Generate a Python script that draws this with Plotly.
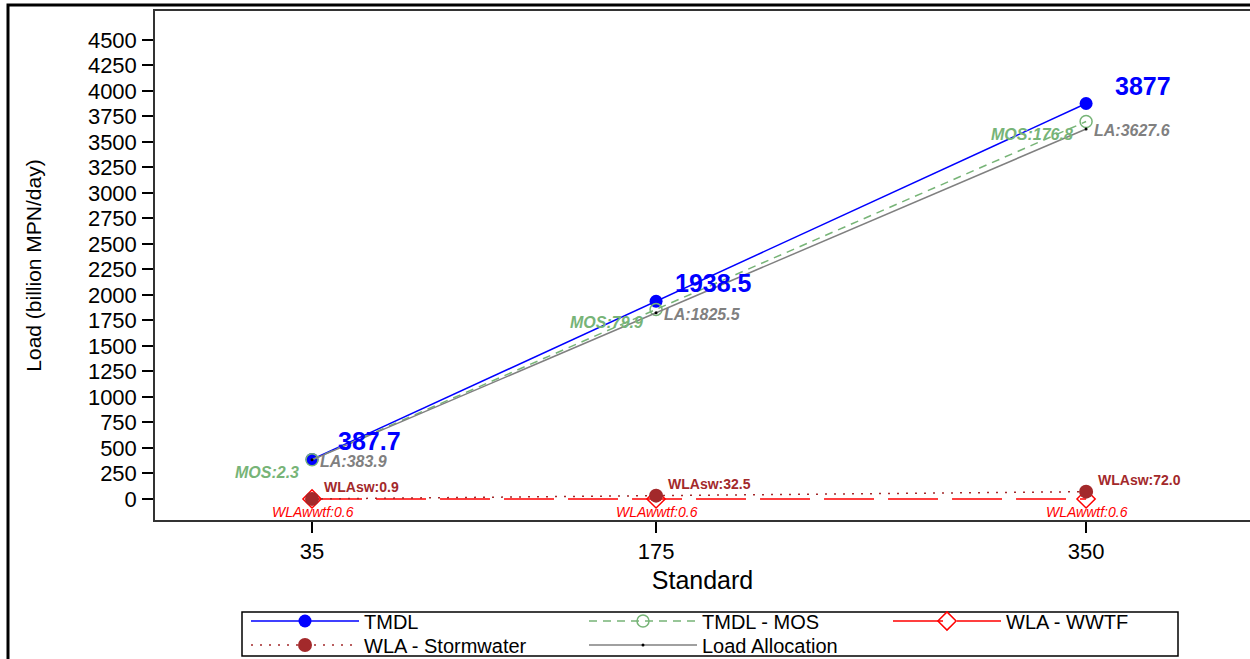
import plotly.graph_objects as go

# ---------------- data ----------------
standards = [35, 175, 350]
tmdl = [387.7, 1938.5, 3877.0]
mos = [2.3, 79.9, 176.8]
wla_wwtf = [0.6, 0.6, 0.6]
wla_sw = [0.9, 32.5, 72.0]
load_alloc = [383.9, 1825.5, 3627.6]
tmdl_minus_mos = [t - m for t, m in zip(tmdl, mos)]
y_ticks = list(range(0, 4501, 250))

# ---------------- style ----------------
FONT = "Liberation Sans, Arial, Helvetica, sans-serif"
BLUE = "#0000ff"
GREEN = "#77b477"
RED = "#ff0000"
DARKRED = "#a3292b"
GRAY = "#808080"

W, H = 1250, 659
ML, MR, MT, MB = 155, 0, 11, 139
PW, PH = W - ML - MR, H - MT - MB


def px_x(px):
    return (px - ML) / PW


def px_y(py):
    return (H - MB - py) / PH


fig = go.Figure()

fig.add_trace(go.Scatter(
    x=standards, y=tmdl, name="TMDL", mode="lines+markers",
    line=dict(color=BLUE, width=1.5),
    marker=dict(symbol="circle", size=13, color=BLUE),
    legend="legend"))
fig.add_trace(go.Scatter(
    x=standards, y=tmdl_minus_mos, name="TMDL - MOS", mode="lines+markers",
    line=dict(color=GREEN, width=1.5, dash="8px,6px"),
    marker=dict(symbol="circle-open", size=12, color=GREEN, line=dict(width=1.5)),
    legend="legend2"))
fig.add_trace(go.Scatter(
    x=standards, y=wla_wwtf, name="WLA - WWTF", mode="lines+markers",
    line=dict(color=RED, width=1.5, dash="50px,14px"),
    marker=dict(symbol="diamond-open", size=14, color=RED, line=dict(width=1.5)),
    legend="legend3"))
fig.add_trace(go.Scatter(
    x=standards, y=wla_sw, name="WLA - Stormwater", mode="lines+markers",
    line=dict(color=DARKRED, width=1.5, dash="2px,7px"),
    marker=dict(symbol="circle", size=14, color=DARKRED),
    legend="legend4"))
fig.add_trace(go.Scatter(
    x=standards, y=load_alloc, name="Load Allocation", mode="lines+markers",
    line=dict(color=GRAY, width=1.5),
    marker=dict(symbol="circle", size=3, color="black"),
    legend="legend5"))

# ---------------- annotations ----------------
ann = []
for xs, t in zip(standards, tmdl):
    ann.append(dict(x=xs, y=t, text=f"{t:g}", xanchor="center", yanchor="middle",
                    xshift=57, yshift=18,
                    font=dict(family=FONT, size=25, color=BLUE, weight="bold")))
for xs, v in zip(standards, load_alloc):
    ann.append(dict(x=xs, y=v, text=f"LA:{v:.1f}", xanchor="left", yanchor="middle",
                    xshift=6, yshift=-2,
                    font=dict(family=FONT, size=16, color=GRAY, weight="bold", style="italic")))
for xs, v, m in zip(standards, tmdl_minus_mos, mos):
    ann.append(dict(x=xs, y=v, text=f"MOS:{m:.1f}", xanchor="right", yanchor="middle",
                    xshift=-11, yshift=-13,
                    font=dict(family=FONT, size=16, color=GREEN, weight="bold", style="italic")))
for xs, v in zip(standards, wla_sw):
    ann.append(dict(x=xs, y=v, text=f"WLAsw:{v:.1f}", xanchor="left", yanchor="middle",
                    xshift=10, yshift=12,
                    font=dict(family=FONT, size=14, color=DARKRED, weight="bold")))
for xs, v in zip(standards, wla_wwtf):
    ann.append(dict(x=xs, y=v, text=f"WLAwwtf:{v:.1f}", xanchor="center", yanchor="middle",
                    xshift=1, yshift=-13,
                    font=dict(family=FONT, size=14, color=RED, style="italic")))
for a in ann:
    a.update(xref="x", yref="y", showarrow=False)

# ---------------- shapes: outer frame and legend box ----------------
shapes = [
    dict(type="rect", xref="paper", yref="paper",
         x0=px_x(8), x1=px_x(1262), y0=px_y(672), y1=px_y(5),
         line=dict(color="black", width=3), fillcolor="rgba(0,0,0,0)", layer="above"),
    dict(type="rect", xref="paper", yref="paper",
         x0=px_x(242), x1=px_x(1178), y0=px_y(656), y1=px_y(612),
         line=dict(color="black", width=1.5), fillcolor="rgba(0,0,0,0)", layer="above"),
]


def leg(px, py):
    return dict(x=px_x(px), y=px_y(py), xanchor="left", yanchor="middle",
                bgcolor="rgba(0,0,0,0)", borderwidth=0, itemwidth=108,
                font=dict(family=FONT, size=20, color="black"),
                orientation="h")


fig.update_layout(
    width=W, height=H,
    margin=dict(l=ML, r=MR, t=MT, b=MB, autoexpand=False),
    paper_bgcolor="white", plot_bgcolor="white",
    font=dict(family=FONT, color="black"),
    showlegend=True,
    legend=leg(246, 621),
    legend2=leg(584, 621),
    legend3=leg(888, 621),
    legend4=leg(246, 645),
    legend5=leg(584, 645),
    annotations=ann,
    shapes=shapes,
    xaxis=dict(
        range=[-28.9, 416.7], tickvals=standards, ticktext=[str(s) for s in standards],
        showgrid=False, zeroline=False, showline=True, mirror=True,
        linecolor="#333333", linewidth=1.5,
        ticks="outside", ticklen=11, tickwidth=1.5, tickcolor="black",
        tickfont=dict(family=FONT, size=22, color="black"),
        title=dict(text="Standard", font=dict(family=FONT, size=25, color="black"), standoff=8),
    ),
    yaxis=dict(
        range=[-206, 4784], tickvals=y_ticks,
        showgrid=False, zeroline=False, showline=True, mirror=False,
        linecolor="#333333", linewidth=1.5,
        ticks="outside", ticklen=11, tickwidth=1.5, tickcolor="black",
        ticklabelstandoff=1,
        tickfont=dict(family=FONT, size=22, color="black"),
        title=dict(text="Load (billion MPN/day)", font=dict(family=FONT, size=21, color="black"),
                   standoff=41),
    ),
)

fig.write_html("out.html")
